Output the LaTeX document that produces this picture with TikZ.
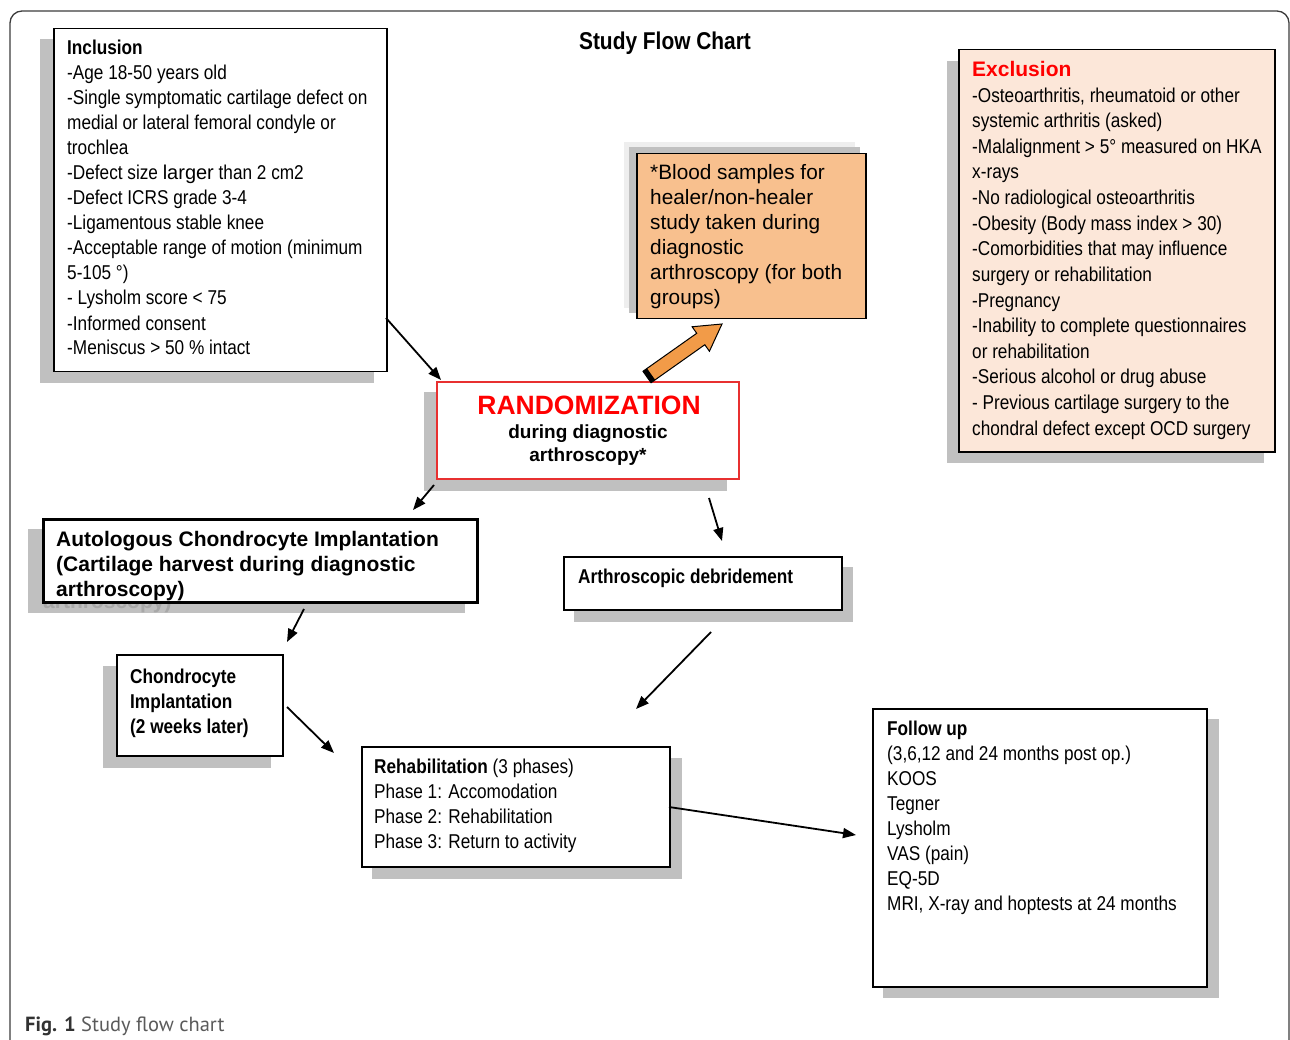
\documentclass[tikz,border=0pt]{standalone}
\usepackage{fontspec}
\setmainfont{Liberation Sans}
\newfontfamily\nar[FakeStretch=0.86]{Liberation Sans}
\newfontfamily\capfont{PT Sans}
\usetikzlibrary{arrows.meta,calc}
\definecolor{shad}{RGB}{192,192,192}
\definecolor{shadlight}{RGB}{238,238,238}
\definecolor{orfill}{RGB}{248,192,142}
\definecolor{arrfill}{RGB}{242,155,72}
\definecolor{exfill}{RGB}{252,231,217}
\definecolor{rbord}{RGB}{232,48,48}
\definecolor{framecol}{RGB}{60,60,60}
\definecolor{ghostcol}{RGB}{168,168,168}
\definecolor{capdark}{RGB}{50,50,50}
\definecolor{capgray}{RGB}{90,90,90}
\tikzset{
  box/.style={draw=black, fill=white, line width=1.5pt, inner sep=0pt, anchor=north west},
  txt/.style={anchor=base west, align=left, inner sep=0pt, font=\nar\fontsize{20}{25}\selectfont},
  conn/.style={line width=1.8pt, -{Triangle[length=13pt, width=10pt]}}
}
\begin{document}
\begin{tikzpicture}[x=1pt,y=-1pt]
\useasboundingbox (0,0) rectangle (1290,1040);
\clip (0,0) rectangle (1290,1040);
\draw[framecol, line width=1.3pt, rounded corners=12pt] (10,1080) -- (10,11) -- (1289,11) -- (1289,1080);

% title
\node[font=\nar\bfseries\fontsize{24.3}{29}\selectfont, inner sep=0pt] (title) at (665,43) {Study Flow Chart};

% Inclusion (anchor = baseline of last line)
\fill[shad] (40,39) rectangle (374,383);
\node[box, minimum width=333pt, minimum height=343pt] (incl) at (53,28) {};
\node[txt] (incltxt) at (67,355) {\bfseries Inclusion\\
-Age 18-50 years old\\
-Single symptomatic cartilage defect on\\
medial or lateral femoral condyle or\\
trochlea\\
-Defect size {\rmfamily larger} than 2 cm2\\
-Defect ICRS grade 3-4\\
-Ligamentous stable knee\\
-Acceptable range of motion (minimum\\
5-105 °)\\
- Lysholm score < 75\\
-Informed consent\\
-Meniscus > 50 \% intact};

% Blood samples
\fill[shadlight] (624,142) rectangle (855,308);
\fill[shad] (629,147) rectangle (860,313);
\node[box, fill=orfill, minimum width=229pt, minimum height=165pt] (blood) at (636,153) {};
\node[txt, font=\fontsize{20.8}{25}\selectfont] (bloodtxt) at (650,305) {*Blood samples for\\healer/non-healer\\study taken during\\diagnostic\\arthroscopy (for both\\groups)};

% Randomization
\fill[shad] (424,392) rectangle (727,491);
\node[box, draw=rbord, minimum width=302pt, minimum height=97pt] (rand) at (436,381) {};
\node[font=\bfseries\fontsize{26.5}{31}\selectfont, text=red, anchor=base, inner sep=0pt] (randt) at (589,414) {RANDOMIZATION};
\node[font=\bfseries\fontsize{19}{23}\selectfont, align=center, anchor=base, inner sep=0pt] (randsub) at (588,461) {during diagnostic\\arthroscopy*};

% Exclusion
\fill[shad] (947,61) rectangle (1264,463);
\node[box, fill=exfill, minimum width=316pt, minimum height=402pt] (excl) at (958,49) {};
\node[anchor=base west, inner sep=0pt, text=red, font=\bfseries\fontsize{21}{25}\selectfont] (exclh) at (972,77) {Exclusion};
\node[txt, font=\nar\fontsize{20}{25.6}\selectfont] (excltxt) at (972,435) {-Osteoarthritis, rheumatoid or other\\
systemic arthritis (asked)\\
-Malalignment > 5° measured on HKA\\
x-rays\\
-No radiological osteoarthritis\\
-Obesity (Body mass index > 30)\\
-Comorbidities that may influence\\
surgery or rehabilitation\\
-Pregnancy\\
-Inability to complete questionnaires\\
or rehabilitation\\
-Serious alcohol or drug abuse\\
- Previous cartilage surgery to the\\
chondral defect except OCD surgery};

% ACI
\fill[shad] (28,529) rectangle (465,613);
\node[anchor=base west, inner sep=0pt, font=\bfseries\fontsize{21}{25}\selectfont, text=ghostcol] (ghost) at (43,608) {arthroscopy)};
\node[box, line width=2.6pt, minimum width=434pt, minimum height=83pt] (aci) at (42,518) {};
\node[txt, font=\bfseries\fontsize{21}{25}\selectfont] (acitxt) at (56,596) {Autologous Chondrocyte Implantation\\(Cartilage harvest during diagnostic\\arthroscopy)};

% Chondrocyte implantation
\fill[shad] (103,666) rectangle (271,768);
\node[box, line width=2.2pt, minimum width=166pt, minimum height=101pt] (chon) at (116,654) {};
\node[txt, font=\nar\bfseries\fontsize{20}{25}\selectfont] (chontxt) at (130,733) {Chondrocyte\\Implantation\\(2 weeks later)};

% Arthroscopic debridement
\fill[shad] (574,567) rectangle (853,622);
\node[box, line width=2.4pt, minimum width=278pt, minimum height=53pt] (arth) at (563,556) {};
\node[txt, font=\nar\bfseries\fontsize{20}{25}\selectfont] (arthtxt) at (578,583) {Arthroscopic debridement};

% Rehabilitation
\fill[shad] (372,758) rectangle (682,879);
\node[box, minimum width=308pt, minimum height=120pt] (rehab) at (361,746) {};
\node[txt] (rehabtxt) at (374,848) {{\bfseries Rehabilitation} (3 phases)\\Phase 1: Accomodation\\Phase 2: Rehabilitation\\Phase 3: Return to activity};

% Follow up
\fill[shad] (883,719) rectangle (1219,998);
\node[box, minimum width=334pt, minimum height=278pt] (fu) at (872,708) {};
\node[txt] (futxt) at (887,910) {{\bfseries Follow up}\\(3,6,12 and 24 months post op.)\\KOOS\\Tegner\\Lysholm\\VAS (pain)\\EQ-5D\\MRI, X-ray and hoptests at 24 months};

% connectors
\coordinate (c1a) at (386,318); \coordinate (c1b) at (441,380);
\coordinate (c2a) at (434,485); \coordinate (c2b) at (413,510);
\coordinate (c3a) at (709,498); \coordinate (c3b) at (722,541);
\coordinate (c4a) at (304,609); \coordinate (c4b) at (287,642);
\coordinate (c5a) at (287,707); \coordinate (c5b) at (334,753);
\coordinate (c6a) at (711,632); \coordinate (c6b) at (636,709);
\coordinate (c7a) at (669,807); \coordinate (c7b) at (856,835);
\draw[conn] (c1a) -- (c1b);
\draw[conn] (c2a) -- (c2b);
\draw[conn] (c3a) -- (c3b);
\draw[conn] (c4a) -- (c4b);
\draw[conn] (c5a) -- (c5b);
\draw[conn] (c6a) -- (c6b);
\draw[conn] (c7a) -- (c7b);

% orange block arrow
\coordinate (oT) at (647,377);
\coordinate (oP) at (722,324);
\coordinate (oH) at ($(oP)!26pt!(oT)$);
\draw[fill=arrfill, line width=1pt, line join=miter]
  ($(oT)!7pt!90:(oP)$) -- ($(oH)!7pt!-90:(oT)$) -- ($(oH)!15pt!-90:(oT)$) -- (oP)
  -- ($(oH)!15pt!90:(oT)$) -- ($(oH)!7pt!90:(oT)$) -- ($(oT)!7pt!-90:(oP)$) -- cycle;
\coordinate (oT2) at ($(oT)!2.5pt!(oP)$);
\draw[line width=5pt] ($(oT2)!7pt!90:(oP)$) -- ($(oT2)!7pt!-90:(oP)$);

% caption
\node[anchor=base west, inner sep=0pt, font=\capfont\fontsize{20.5}{25}\selectfont] (cap) at (25,1031) {{\color{capdark}\bfseries Fig. 1} {\color{capgray}Study flow chart}};
\end{tikzpicture}
\end{document}
